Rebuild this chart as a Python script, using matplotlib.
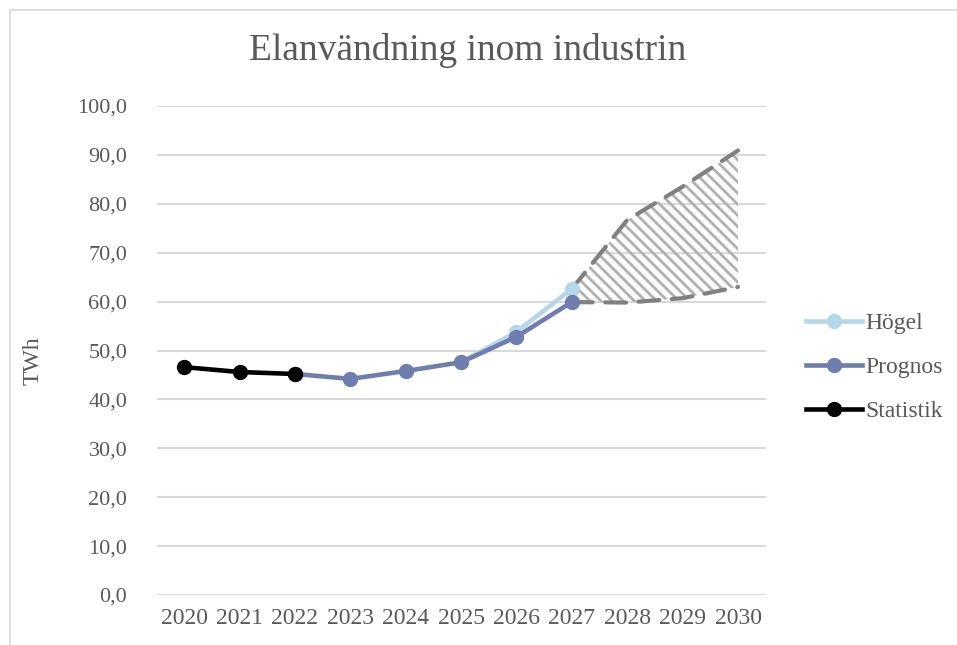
import matplotlib
matplotlib.use('Agg')
import matplotlib.pyplot as plt
from matplotlib.patches import Rectangle

plt.rcParams['font.family'] = ['Liberation Serif', 'DejaVu Serif']
plt.rcParams['hatch.linewidth'] = 2.0

years = list(range(2020, 2031))

# series values (TWh)
stat_years = [2020, 2021, 2022]
stat_vals = [46.6, 45.6, 45.2]

prog_years = [2022, 2023, 2024, 2025, 2026, 2027]
prog_vals = [45.2, 44.2, 45.8, 47.6, 52.8, 59.9]

hog_years = [2025, 2026, 2027]
hog_vals = [47.6, 53.8, 62.6]

# uncertainty range after 2027
band_years = [2027, 2028, 2029, 2030]
band_high = [62.6, 76.7, 83.5, 90.9]
band_low = [59.9, 59.8, 60.7, 63.0]

yticks = [0, 10, 20, 30, 40, 50, 60, 70, 80, 90, 100]
ytick_labels = [f"{v:.1f}".replace('.', ',') for v in yticks]

text_col = '#595959'
grid_col = '#d9d9d9'

fig = plt.figure(figsize=(9.57, 6.45), dpi=100)
ax = fig.add_axes([156.5 / 957, 50 / 645, (765.7 - 156.5) / 957, 489 / 645])

# chart border (cut at right/bottom like the screenshot)
fig.patches.append(Rectangle((10 / 957, -0.1), 1.2, (635 / 645) + 0.1,
                             transform=fig.transFigure, fill=False,
                             edgecolor=grid_col, linewidth=1.2))

ax.fill_between(band_years, band_low, band_high, facecolor='none',
                edgecolor='#b0b0b0', hatch='\\\\\\', linewidth=0, zorder=1)
ax.plot(band_years, band_high, color='#808080', lw=3, dashes=[5, 3],
        dash_capstyle='round', zorder=2)
ax.plot(band_years, band_low, color='#808080', lw=3, dashes=[5, 3],
        dash_capstyle='round', zorder=2)

ax.plot(hog_years, hog_vals, color='#b4d7e9', lw=3.3, marker='o', ms=10,
        label='Högel', zorder=3)
ax.plot(prog_years, prog_vals, color='#6f7eb0', lw=3.3, marker='o', ms=10,
        label='Prognos', zorder=4)
ax.plot(stat_years, stat_vals, color='black', lw=3.3, marker='o', ms=10,
        label='Statistik', zorder=5)

ax.set_xlim(2019.5, 2030.5)
ax.set_ylim(0, 100)
ax.set_xticks(years)
ax.set_xticklabels([str(y) for y in years])
ax.set_yticks(yticks)
ax.set_yticklabels(ytick_labels)
ax.tick_params(length=0, labelsize=17, colors=text_col)
ax.tick_params(axis='y', labelsize=16, pad=21)
ax.tick_params(axis='x', pad=9)
for s in ax.spines.values():
    s.set_visible(False)
ax.grid(axis='y', color=grid_col, lw=1.5)
ax.set_axisbelow(True)

ax.set_ylabel('TWh', fontsize=17, color=text_col)
ax.yaxis.set_label_coords(-0.185, 0.48)
fig.text(468 / 957, 1 - 50 / 645, 'Elanvändning inom industrin', ha='center',
         va='center', fontsize=27, color=text_col)

leg = ax.legend(loc='center left', bbox_to_anchor=(1.05, 0.465), frameon=False,
                fontsize=17, labelcolor=text_col, handlelength=2.4,
                handletextpad=0.15, labelspacing=0.95, borderaxespad=0)

fig.savefig('out.png', dpi=100)
